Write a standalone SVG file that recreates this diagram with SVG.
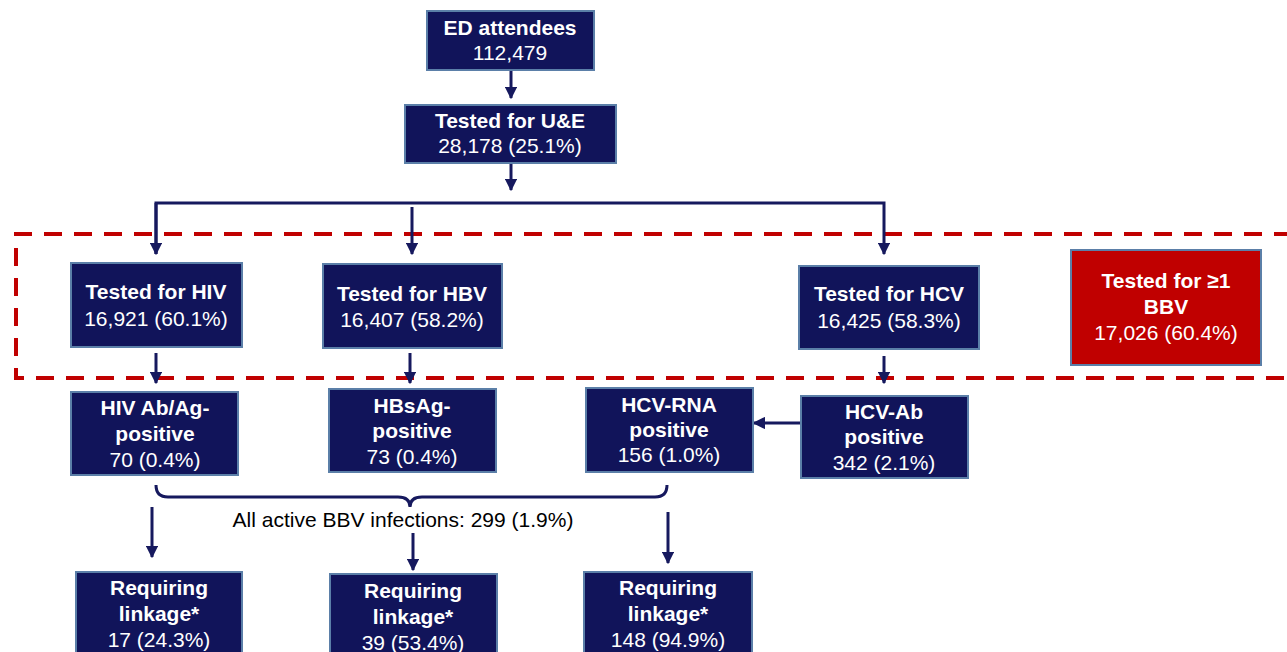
<svg xmlns="http://www.w3.org/2000/svg" width="1287" height="652" viewBox="0 0 1287 652">
<defs>
<style>
.box{fill:#11145a;stroke:#5b7fa8;stroke-width:2}
.red{fill:#c00000;stroke:#5b7fa8;stroke-width:2}
text{font-family:"Liberation Sans",Arial,sans-serif;font-size:21px;fill:#ffffff;text-anchor:middle}
.b{font-weight:bold}
.lbl{fill:#000000;font-size:21px}
.ln{fill:none;stroke:#16195e;stroke-width:3}
.dash{fill:none;stroke:#c00000;stroke-width:4;stroke-dasharray:18 12}
</style>
<marker id="ah" viewBox="0 0 10 10" refX="9" refY="5" markerWidth="4.2" markerHeight="4.2" orient="auto" markerUnits="strokeWidth">
<path d="M0,0 L10,5 L0,10 z" fill="#16195e"/>
</marker>
</defs>
<rect width="1287" height="652" fill="#ffffff"/>
<path class="dash" d="M1292,234 H16 V378 H1292"/>
<g id="connectors">
<path class="ln" d="M511,70 V98" marker-end="url(#ah)"/>
<path class="ln" d="M511,163 V190" marker-end="url(#ah)"/>
<path class="ln" d="M156,254 V203 H884 V254" marker-end="url(#ah)"/>
<path class="ln" d="M156,203 V254" marker-end="url(#ah)"/>
<path class="ln" d="M412,207 V254" marker-end="url(#ah)"/>
<path class="ln" d="M156,353 V383" marker-end="url(#ah)"/>
<path class="ln" d="M410,353 V383" marker-end="url(#ah)"/>
<path class="ln" d="M884,356 V383" marker-end="url(#ah)"/>
<path class="ln" d="M801,423 H754" marker-end="url(#ah)"/>
<path class="ln" d="M156,485 Q156,497 168,497 H398 Q410,497 410,507 Q410,497 422,497 H655 Q667,497 667,485" stroke-width="2.5"/>
<path class="ln" d="M152,507 V557" marker-end="url(#ah)"/>
<path class="ln" d="M413,533 V570" marker-end="url(#ah)"/>
<path class="ln" d="M668,512 V563" marker-end="url(#ah)"/>
</g>
<g id="ed"><rect class="box" x="427" y="11" width="167" height="59"/><text class="b" x="510" y="35">ED attendees</text><text x="510" y="60">112,479</text></g>
<g id="ue"><rect class="box" x="405" y="105" width="211" height="58"/><text class="b" x="510" y="128">Tested for U&amp;E</text><text x="510" y="153">28,178 (25.1%)</text></g>
<g id="hiv"><rect class="box" x="71" y="263" width="171" height="84"/><text class="b" x="156" y="299">Tested for HIV</text><text x="156" y="326">16,921 (60.1%)</text></g>
<g id="hbv"><rect class="box" x="323" y="264" width="179" height="84"/><text class="b" x="412" y="301">Tested for HBV</text><text x="412" y="327">16,407 (58.2%)</text></g>
<g id="hcv"><rect class="box" x="799" y="266" width="180" height="83"/><text class="b" x="889" y="301">Tested for HCV</text><text x="889" y="328">16,425 (58.3%)</text></g>
<g id="bbv"><rect class="red" x="1071" y="250" width="190" height="115"/><text class="b" x="1166" y="288">Tested for ≥1</text><text class="b" x="1166" y="314">BBV</text><text x="1166" y="340">17,026 (60.4%)</text></g>
<g id="hivpos"><rect class="box" x="71" y="392" width="167" height="83"/><text class="b" x="155" y="415">HIV Ab/Ag-</text><text class="b" x="155" y="441">positive</text><text x="155" y="467">70 (0.4%)</text></g>
<g id="hbsag"><rect class="box" x="329" y="389" width="167" height="83"/><text class="b" x="412" y="413">HBsAg-</text><text class="b" x="412" y="438">positive</text><text x="412" y="464">73 (0.4%)</text></g>
<g id="rna"><rect class="box" x="586" y="388" width="167" height="84"/><text class="b" x="669" y="412">HCV-RNA</text><text class="b" x="669" y="437">positive</text><text x="669" y="462">156 (1.0%)</text></g>
<g id="hcvab"><rect class="box" x="801" y="396" width="167" height="82"/><text class="b" x="884" y="419">HCV-Ab</text><text class="b" x="884" y="444">positive</text><text x="884" y="470">342 (2.1%)</text></g>
<g id="allbbv"><text class="lbl" x="403" y="527">All active BBV infections: 299 (1.9%)</text></g>
<g id="req1"><rect class="box" x="76" y="572" width="166" height="95"/><text class="b" x="159" y="595">Requiring</text><text class="b" x="159" y="621">linkage*</text><text x="159" y="647">17 (24.3%)</text></g>
<g id="req2"><rect class="box" x="330" y="574" width="167" height="95"/><text class="b" x="413" y="598">Requiring</text><text class="b" x="413" y="624">linkage*</text><text x="413" y="650">39 (53.4%)</text></g>
<g id="req3"><rect class="box" x="584" y="572" width="168" height="95"/><text class="b" x="668" y="595">Requiring</text><text class="b" x="668" y="621">linkage*</text><text x="668" y="647">148 (94.9%)</text></g>
</svg>
